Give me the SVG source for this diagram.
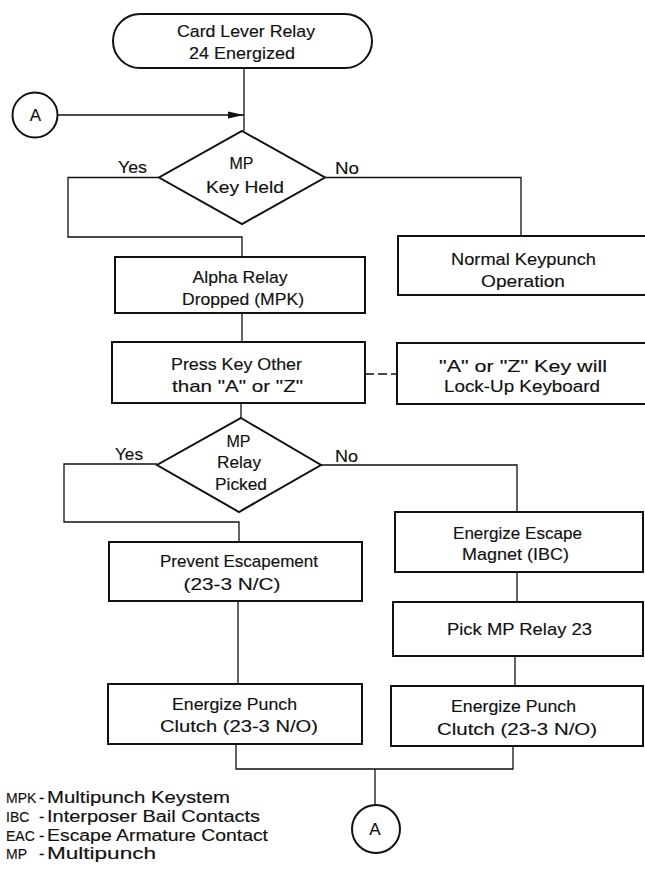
<svg xmlns="http://www.w3.org/2000/svg" width="645" height="872" viewBox="0 0 645 872">
<style>
.box{fill:#fff;stroke:#111;stroke-width:2}
.ln{fill:none;stroke:#111;stroke-width:1.3}
text{font-family:"Liberation Sans",Arial,sans-serif;font-size:17px;fill:#111;stroke:#111;stroke-width:0.15}
.c{text-anchor:middle}
.lg{font-size:16px}
.ab{font-size:14px}
</style>
<defs>
<marker id="arr" markerUnits="userSpaceOnUse" markerWidth="16" markerHeight="8" viewBox="0 0 16 8" refX="16" refY="4" orient="auto">
<path d="M0,0.6 L16,4 L0,7.4 z" fill="#111"/>
</marker>
</defs>
<rect width="645" height="872" fill="#fff"/>
<g id="connectors">
<line class="ln" x1="244" y1="68" x2="244" y2="131"/>
<line class="ln" x1="58" y1="115" x2="244" y2="115" marker-end="url(#arr)"/>
<polyline class="ln" points="159,177.5 68,177.5 68,237 242,237 242,257"/>
<polyline class="ln" points="325,177.5 521,177.5 521,236"/>
<line class="ln" x1="242" y1="313" x2="242" y2="342"/>
<line class="ln" x1="365" y1="374" x2="397" y2="374" stroke-dasharray="9,4"/>
<line class="ln" x1="241" y1="403" x2="241" y2="418"/>
<polyline class="ln" points="157,464 64,464 64,522 239,522 239,542"/>
<polyline class="ln" points="321,465 517,465 517,512"/>
<line class="ln" x1="238" y1="601" x2="238" y2="684"/>
<line class="ln" x1="517" y1="572" x2="517" y2="602"/>
<line class="ln" x1="515" y1="656" x2="515" y2="686"/>
<polyline class="ln" points="236,744 236,769 513,769 513,746"/>
<line class="ln" x1="375" y1="769" x2="375" y2="805"/>
</g>
<g id="start">
<rect class="box" x="113" y="14" width="259" height="54" rx="27"/>
<text class="c" x="246" y="37" textLength="138" lengthAdjust="spacingAndGlyphs">Card Lever Relay</text>
<text class="c" x="242" y="59" textLength="106" lengthAdjust="spacingAndGlyphs">24 Energized</text>
</g>
<g id="connA-top">
<circle class="box" cx="35" cy="115" r="22.5"/>
<text class="c" x="35.5" y="121">A</text>
</g>
<g id="dec1">
<polygon class="box" points="242,131 325,177.5 242,224 159,177.5"/>
<text class="c" x="241.5" y="169" textLength="24" lengthAdjust="spacingAndGlyphs">MP</text>
<text class="c" x="245" y="193" textLength="78" lengthAdjust="spacingAndGlyphs">Key  Held</text>
<text x="118" y="173" textLength="29" lengthAdjust="spacingAndGlyphs">Yes</text>
<text x="335" y="174" textLength="24" lengthAdjust="spacingAndGlyphs">No</text>
</g>
<g id="alpha">
<rect class="box" x="115" y="257" width="250" height="56"/>
<text class="c" x="240" y="283" textLength="95" lengthAdjust="spacingAndGlyphs">Alpha Relay</text>
<text class="c" x="243" y="305" textLength="122" lengthAdjust="spacingAndGlyphs">Dropped (MPK)</text>
</g>
<g id="normal">
<rect class="box" x="398" y="236" width="262" height="59"/>
<text class="c" x="523.5" y="265" textLength="145" lengthAdjust="spacingAndGlyphs">Normal Keypunch</text>
<text class="c" x="523" y="287" textLength="84" lengthAdjust="spacingAndGlyphs">Operation</text>
</g>
<g id="press">
<rect class="box" x="112" y="342" width="253" height="61"/>
<text class="c" x="236.5" y="370" textLength="131" lengthAdjust="spacingAndGlyphs">Press Key Other</text>
<text class="c" x="237.5" y="392" textLength="131" lengthAdjust="spacingAndGlyphs">than "A" or "Z"</text>
</g>
<g id="lock">
<rect class="box" x="397" y="343" width="262" height="61"/>
<text class="c" x="523" y="372" textLength="168" lengthAdjust="spacingAndGlyphs">"A" or "Z" Key will</text>
<text class="c" x="522" y="392" textLength="156" lengthAdjust="spacingAndGlyphs">Lock-Up  Keyboard</text>
</g>
<g id="dec2">
<polygon class="box" points="241,418 321,465 239,512 157,465"/>
<text class="c" x="238.5" y="447" textLength="24" lengthAdjust="spacingAndGlyphs">MP</text>
<text class="c" x="239" y="468" textLength="44" lengthAdjust="spacingAndGlyphs">Relay</text>
<text class="c" x="241" y="490" textLength="52" lengthAdjust="spacingAndGlyphs">Picked</text>
<text x="115" y="460" textLength="28" lengthAdjust="spacingAndGlyphs">Yes</text>
<text x="335" y="462" textLength="23" lengthAdjust="spacingAndGlyphs">No</text>
</g>
<g id="prevent">
<rect class="box" x="109" y="542" width="253" height="59"/>
<text class="c" x="239" y="567" textLength="158" lengthAdjust="spacingAndGlyphs">Prevent Escapement</text>
<text class="c" x="232" y="590" textLength="97" lengthAdjust="spacingAndGlyphs">(23-3 N/C)</text>
</g>
<g id="escape">
<rect class="box" x="395" y="512" width="248" height="60"/>
<text class="c" x="517.5" y="539" textLength="129" lengthAdjust="spacingAndGlyphs">Energize Escape</text>
<text class="c" x="515.5" y="560" textLength="107" lengthAdjust="spacingAndGlyphs">Magnet (IBC)</text>
</g>
<g id="pick">
<rect class="box" x="393" y="602" width="250" height="54"/>
<text class="c" x="519.5" y="635" textLength="145" lengthAdjust="spacingAndGlyphs">Pick MP Relay 23</text>
</g>
<g id="punchL">
<rect class="box" x="108" y="684" width="254" height="60"/>
<text class="c" x="234.5" y="710" textLength="125" lengthAdjust="spacingAndGlyphs">Energize Punch</text>
<text class="c" x="239" y="732" textLength="158" lengthAdjust="spacingAndGlyphs">Clutch (23-3 N/O)</text>
</g>
<g id="punchR">
<rect class="box" x="391" y="686" width="252" height="60"/>
<text class="c" x="513.5" y="712" textLength="125" lengthAdjust="spacingAndGlyphs">Energize Punch</text>
<text class="c" x="517" y="735" textLength="160" lengthAdjust="spacingAndGlyphs">Clutch (23-3 N/O)</text>
</g>
<g id="connA-bottom">
<circle class="box" cx="376" cy="829" r="24"/>
<text class="c" x="375" y="835">A</text>
</g>
<g id="legend">
<text class="ab" x="6" y="803">MPK</text>
<text class="lg" x="39" y="803">-</text>
<text class="lg" x="47" y="803" textLength="183" lengthAdjust="spacingAndGlyphs">Multipunch Keystem</text>
<text class="ab" x="6" y="822">IBC</text>
<text class="lg" x="39" y="822">-</text>
<text class="lg" x="47" y="822" textLength="213" lengthAdjust="spacingAndGlyphs">Interposer Bail Contacts</text>
<text class="ab" x="6" y="841">EAC</text>
<text class="lg" x="39" y="841">-</text>
<text class="lg" x="47" y="841" textLength="221" lengthAdjust="spacingAndGlyphs">Escape Armature Contact</text>
<text class="ab" x="6" y="859">MP</text>
<text class="lg" x="39" y="859">-</text>
<text class="lg" x="47" y="859" textLength="109" lengthAdjust="spacingAndGlyphs">Multipunch</text>
</g>
</svg>
